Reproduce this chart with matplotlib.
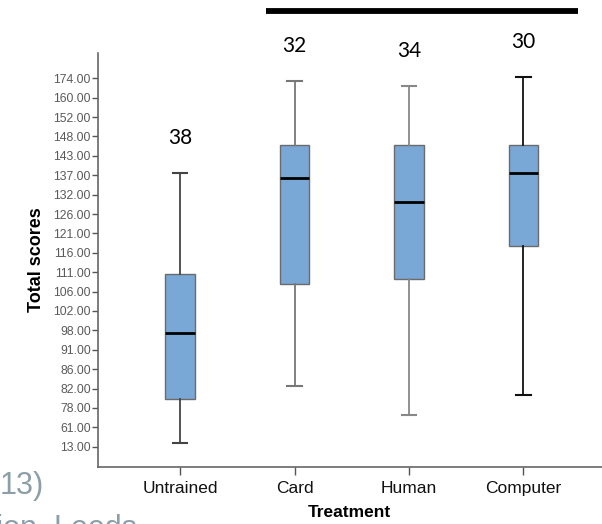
import matplotlib
matplotlib.use("Agg")
import matplotlib.pyplot as plt

# treatment groups and group sizes shown above each box
groups = ["Untrained", "Card", "Human", "Computer"]
group_n = [38, 32, 34, 30]

# ordinal y axis: one evenly spaced tick per listed score
score_ticks = ["13.00", "61.00", "78.00", "82.00", "86.00", "91.00", "98.00",
               "102.00", "106.00", "111.00", "116.00", "121.00", "126.00",
               "132.00", "137.00", "143.00", "148.00", "152.00", "160.00",
               "174.00"]

# box statistics, in tick-position units of the axis above
whislo = [0.18, 3.13, 1.63, 2.67]
q1     = [2.44, 8.38, 8.63, 10.37]
med    = [5.88, 13.87, 12.62, 14.10]
q3     = [8.89, 15.56, 15.58, 15.58]
whishi = [14.12, 18.86, 18.62, 19.08]

stats = [dict(label=g, whislo=lo, q1=a, med=m, q3=b, whishi=hi)
         for g, lo, a, m, b, hi in zip(groups, whislo, q1, med, q3, whishi)]

plt.rcParams["font.family"] = ["Liberation Sans", "DejaVu Sans"]

fig = plt.figure(figsize=(6.02, 5.24), dpi=100)
ax = fig.add_axes([0.1623, 0.1094, 0.8377, 0.79])

pos = list(range(len(groups)))
whisk_cols = ["#444444", "#777777", "#888888", "#111111"]
bp = ax.bxp(stats, positions=pos, widths=0.255, patch_artist=True,
            showfliers=False, capwidths=0.13,
            boxprops=dict(facecolor="#79a7d6", edgecolor="#6b6b6b", linewidth=1.0),
            medianprops=dict(color="black", linewidth=2.0),
            whiskerprops=dict(linewidth=1.3),
            capprops=dict(linewidth=1.5))
for i, c in enumerate(whisk_cols):
    for art in bp["whiskers"][2 * i:2 * i + 2] + bp["caps"][2 * i:2 * i + 2]:
        art.set_color(c)

# group sizes above the upper whiskers
for x, n, top in zip(pos, group_n, whishi):
    ax.annotate(str(n), (x, top), xytext=(0, 25), textcoords="offset points",
                ha="center", va="center", fontsize=15, family="Lato",
                color="black", annotation_clip=False)

# bar spanning the trained groups
ax.plot([0.751, 3.476], [22.46, 22.46], color="black", lw=4.2,
        solid_capstyle="butt", clip_on=False)

ax.set_xlim(-0.719, 3.686)
ax.set_ylim(-1.03, 20.32)
ax.set_xticks(pos)
ax.set_xticklabels(groups, fontsize=12.5, color="#111111")
ax.set_yticks(range(len(score_ticks)))
ax.set_yticklabels(score_ticks, fontsize=8.8, color="#5a5a5a")
ax.tick_params(axis="y", length=4, width=1, color="#555555", pad=1)
ax.tick_params(axis="x", length=6, width=1, color="#555555", pad=4)

for s in ["top", "right"]:
    ax.spines[s].set_visible(False)
for s in ["left", "bottom"]:
    ax.spines[s].set_color("#666666")
    ax.spines[s].set_linewidth(1.2)

ax.set_xlabel("Treatment", fontsize=12.5, fontweight="bold", labelpad=7)
ax.set_ylabel("Total scores", fontsize=13, fontweight="bold", labelpad=6)

# leftover slide text at the lower left
fig.text(0.0, 0.058, "13)", fontsize=22, color="#8c9ea8", ha="left", va="baseline")
fig.text(-0.02, -0.025, "tion, Leeds", fontsize=22, color="#8c9ea8", ha="left", va="baseline")

fig.savefig("out.png", dpi=100)
